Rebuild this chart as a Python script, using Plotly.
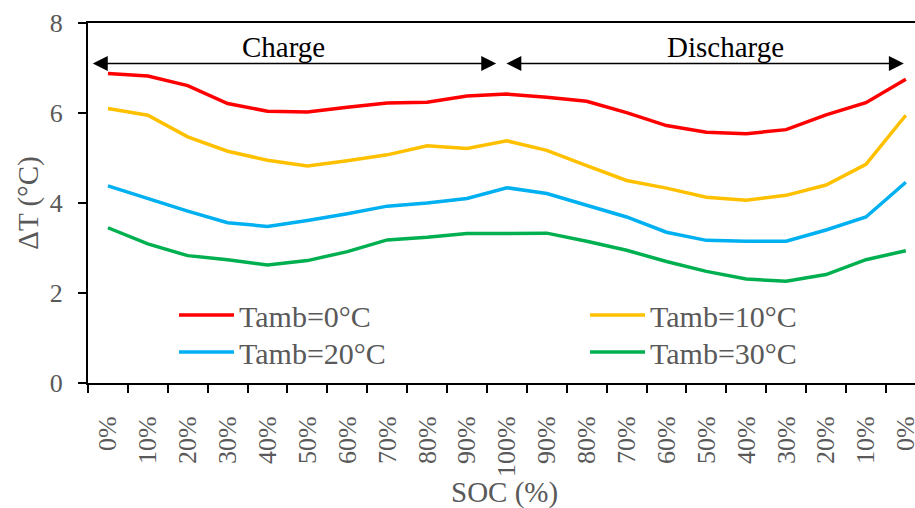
import plotly.graph_objects as go

# SOC axis: charge 0% -> 100%, then discharge 90% -> 0%
soc_labels = ["0%", "10%", "20%", "30%", "40%", "50%", "60%", "70%", "80%", "90%", "100%",
              "90%", "80%", "70%", "60%", "50%", "40%", "30%", "20%", "10%", "0%"]

# Temperature rise (°C) at each SOC step for each ambient temperature
dt_0c = [6.88, 6.82, 6.61, 6.21, 6.04, 6.02, 6.13, 6.22, 6.24, 6.38, 6.42,
         6.35, 6.26, 6.01, 5.72, 5.57, 5.54, 5.63, 5.96, 6.23, 6.75]
dt_10c = [6.10, 5.95, 5.47, 5.15, 4.95, 4.82, 4.94, 5.07, 5.27, 5.21, 5.38,
          5.17, 4.83, 4.50, 4.33, 4.13, 4.06, 4.17, 4.40, 4.86, 5.95]
dt_20c = [4.38, 4.09, 3.82, 3.56, 3.48, 3.61, 3.76, 3.93, 4.00, 4.10, 4.34,
          4.21, 3.94, 3.69, 3.35, 3.17, 3.15, 3.15, 3.40, 3.69, 4.46]
dt_30c = [3.45, 3.09, 2.83, 2.74, 2.62, 2.72, 2.92, 3.18, 3.24, 3.32, 3.32,
          3.33, 3.15, 2.95, 2.70, 2.48, 2.31, 2.26, 2.41, 2.74, 2.94]

series_names = ["Tamb=0°C", "Tamb=10°C", "Tamb=20°C", "Tamb=30°C"]
series_values = [dt_0c, dt_10c, dt_20c, dt_30c]
series_colors = ["#FF0000", "#FFC000", "#00B0F0", "#00B050"]
series_legend = ["legend", "legend2", "legend3", "legend4"]

x_pos = list(range(len(soc_labels)))
SERIF = "Liberation Serif, Times New Roman, serif"
GREY = "#595959"

fig = go.Figure()
for name, vals, col, lg in zip(series_names, series_values, series_colors, series_legend):
    fig.add_trace(go.Scatter(
        x=x_pos, y=vals, mode="lines", name=name,
        line=dict(color=col, width=3.5), legend=lg, showlegend=True,
    ))

legend_style = dict(
    font=dict(family=SERIF, size=30, color=GREY),
    bgcolor="rgba(0,0,0,0)", borderwidth=0,
    orientation="v", xanchor="left", yanchor="top",
    itemwidth=55, visible=True,
)

fig.update_layout(
    width=915, height=508,
    margin=dict(l=88, r=0, t=23, b=125, autoexpand=False),
    paper_bgcolor="white", plot_bgcolor="white",
    font=dict(family=SERIF, color=GREY),
    showlegend=True,
    legend=dict(x=0.104, y=0.2612, **legend_style),
    legend2=dict(x=0.601, y=0.2612, **legend_style),
    legend3=dict(x=0.104, y=0.1584, **legend_style),
    legend4=dict(x=0.601, y=0.1584, **legend_style),
    xaxis=dict(
        range=[-0.5, 20.23], automargin=False,
        tickmode="array", tickvals=x_pos, ticktext=soc_labels,
        tickangle=-90, ticklabeloverflow="allow",
        tickfont=dict(family=SERIF, size=26, color=GREY),
        ticks="outside", ticklen=21, tickcolor="rgba(0,0,0,0)",
        minor=dict(tickmode="array", tickvals=[p - 0.5 for p in x_pos] + [x_pos[-1] + 0.5],
                   ticks="outside", ticklen=8, tickwidth=1.5, tickcolor="black"),
        showline=True, linecolor="black", linewidth=2, mirror=True,
        showgrid=False, zeroline=False,
    ),
    yaxis=dict(
        range=[0, 8], automargin=False,
        tickmode="array", tickvals=[0, 2, 4, 6, 8],
        tickfont=dict(family=SERIF, size=26, color=GREY),
        ticks="outside", ticklen=8, tickwidth=1.5, tickcolor="black",
        ticklabelstandoff=10,
        showline=True, linecolor="black", linewidth=2,
        showgrid=False, zeroline=False,
        title=dict(text="ΔT (°C)", font=dict(family=SERIF, size=29, color=GREY), standoff=3),
    ),
)

# X-axis title placed below the rotated SOC labels
fig.add_annotation(x=0.504, y=-0.3028, xref="paper", yref="paper", text="SOC (%)",
                   showarrow=False, xanchor="center", yanchor="middle",
                   font=dict(family=SERIF, size=29, color=GREY))

# Charge / discharge span arrows with labels
arrow_common = dict(
    xref="x", yref="y", axref="x", ayref="y", text="", showarrow=True,
    arrowside="end+start", arrowhead=2, startarrowhead=2,
    arrowsize=2.3, startarrowsize=2.3, arrowwidth=1.3, arrowcolor="black",
    standoff=0, startstandoff=0,
)
fig.add_annotation(x=-0.38, y=7.1, ax=9.77, ay=7.1, **arrow_common)
fig.add_annotation(x=19.95, y=7.1, ax=9.95, ay=7.1, **arrow_common)
fig.add_annotation(x=4.39, y=7.46, xref="x", yref="y", text="Charge", showarrow=False,
                   font=dict(family=SERIF, size=29, color="black"))
fig.add_annotation(x=15.49, y=7.46, xref="x", yref="y", text="Discharge", showarrow=False,
                   font=dict(family=SERIF, size=29, color="black"))

fig.write_html("out.html")
